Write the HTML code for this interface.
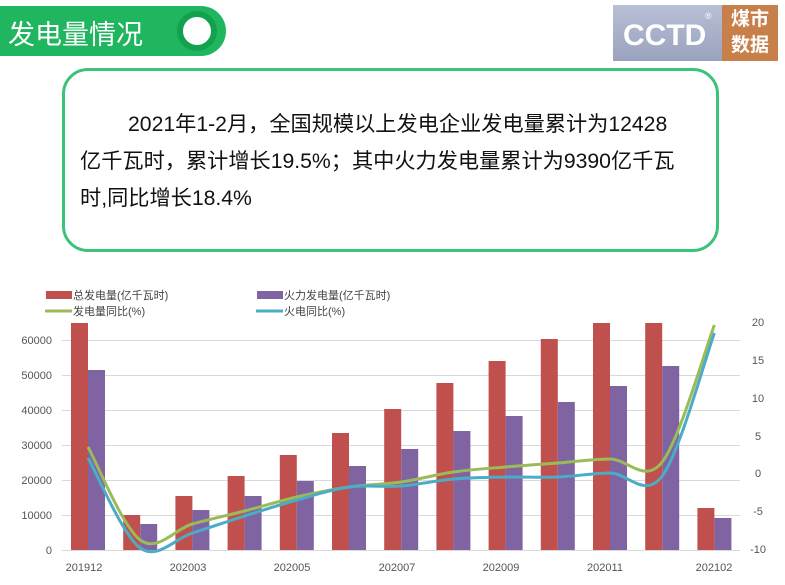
<!DOCTYPE html><html><head><meta charset="utf-8"><style>
body{margin:0;width:785px;height:585px;background:#fff;position:relative;overflow:hidden;font-family:"Liberation Sans","Noto Sans CJK SC",sans-serif}
.hdr{position:absolute;left:0;top:6px;width:226px;height:50px;background:#1fb65f;border-radius:0 25px 25px 0}
.hdr span{position:absolute;left:8px;top:7px;color:#fff;font-size:27px}
.ring{position:absolute;left:177px;top:5px;width:28px;height:28px;border:6px solid #12a24e;border-radius:50%;background:#fff}
.logo1{position:absolute;left:613px;top:5px;width:109px;height:56px;background:linear-gradient(#b8bfd6,#9aa2bd)}
.logo2{position:absolute;left:722px;top:5px;width:56px;height:56px;background:#c8804a;color:#fff;font-size:19px;font-weight:bold;line-height:26px;text-align:center;padding-top:2px;box-sizing:border-box}
.box{position:absolute;left:62px;top:68px;width:651px;height:178px;border:3px solid #3cc27a;border-radius:26px}
.txt{position:absolute;left:80px;top:106px;width:640px;font-size:21.2px;line-height:37px;color:#111;white-space:nowrap}
</style></head><body>
<div class="hdr"><span>发电量情况</span><div class="ring"></div></div>
<div class="logo1"><svg width="109" height="56"><text x="10" y="40" font-size="30" fill="#fff" font-family="Liberation Sans" font-weight="bold">CCTD</text><text x="92" y="14" font-size="9" fill="#fff">®</text></svg></div>
<div class="logo2">煤市<br>数据</div>
<div class="box"></div>
<div class="txt"><span style="padding-left:48px">2021年1-2月，全国规模以上发电企业发电量累计为12428</span><br>亿千瓦时，累计增长19.5%；其中火力发电量累计为9390亿千瓦<br>时,同比增长18.4%</div>
<svg style="position:absolute;left:0;top:0" width="785" height="585" font-family="Liberation Sans, Noto Sans CJK SC, sans-serif">
<g stroke="#d9d9d9" stroke-width="1">
<line x1="62" x2="740" y1="340.5" y2="340.5"/><line x1="62" x2="740" y1="375.5" y2="375.5"/><line x1="62" x2="740" y1="410.5" y2="410.5"/><line x1="62" x2="740" y1="445.5" y2="445.5"/><line x1="62" x2="740" y1="480.5" y2="480.5"/><line x1="62" x2="740" y1="515.5" y2="515.5"/><line x1="62" x2="740" y1="550.5" y2="550.5"/></g>
<g font-size="11" fill="#555" text-anchor="end">
<text x="52" y="344">60000</text><text x="52" y="379">50000</text><text x="52" y="414">40000</text><text x="52" y="449">30000</text><text x="52" y="484">20000</text><text x="52" y="519">10000</text><text x="52" y="554">0</text></g>
<g font-size="11" fill="#555" text-anchor="middle">
<text x="758" y="326">20</text><text x="758" y="364">15</text><text x="758" y="402">10</text><text x="758" y="440">5</text><text x="758" y="477">0</text><text x="758" y="515">-5</text><text x="758" y="553">-10</text>
<text x="84" y="571">201912</text><text x="188" y="571">202003</text><text x="292" y="571">202005</text><text x="397" y="571">202007</text><text x="501" y="571">202009</text><text x="605" y="571">202011</text><text x="714" y="571">202102</text></g>
<g id="bars"></g>
<g font-size="11" fill="#444">
<rect x="46" y="291" width="26" height="8" fill="#c0504d"/><text x="73" y="299">总发电量(亿千瓦时)</text>
<rect x="257" y="291" width="26" height="8" fill="#8064a2"/><text x="284" y="299">火力发电量(亿千瓦时)</text>
<line x1="45" x2="72" y1="311" y2="311" stroke="#9bbb59" stroke-width="3"/><text x="73" y="315">发电量同比(%)</text>
<line x1="256" x2="283" y1="311" y2="311" stroke="#4bacc6" stroke-width="3"/><text x="284" y="315">火电同比(%)</text></g>
<path id="g" fill="none" stroke="#9bbb59" stroke-width="3"/>
<path id="b" fill="none" stroke="#4bacc6" stroke-width="3"/>
</svg>
<script>
var red=[323,515,496,476,455,433,409,383,361,339,323,323,508],pur=[370,524,510,496,481,466,449,431,416,402,386,366,518];
var h='';for(var i=0;i<13;i++){var c=88+52.2*i;h+='<rect x="'+(c-17)+'" y="'+red[i]+'" width="17" height="'+(550-red[i])+'" fill="#c0504d"/><rect x="'+c+'" y="'+pur[i]+'" width="17" height="'+(550-pur[i])+'" fill="#8064a2"/>';}
document.getElementById('bars').innerHTML=h;
function path(ys){var p=ys.map(function(y,i){return[88+52.2*i,y]});var d='M'+p[0];for(var i=0;i<p.length-1;i++){var a=p[i-1]||p[i],b=p[i],c=p[i+1],e=p[i+2]||c;d+=' C'+(b[0]+(c[0]-a[0])/6)+','+(b[1]+(c[1]-a[1])/6)+' '+(c[0]-(e[0]-b[0])/6)+','+(c[1]-(e[1]-b[1])/6)+' '+c;}return d;}
document.getElementById('g').setAttribute('d',path([447,540,524,511,497,487,482,472,467,463,459,462,325]));
document.getElementById('b').setAttribute('d',path([458,548,533,516,500,487,486,479,477,477,473,476,333]));
</script>
</body></html>
